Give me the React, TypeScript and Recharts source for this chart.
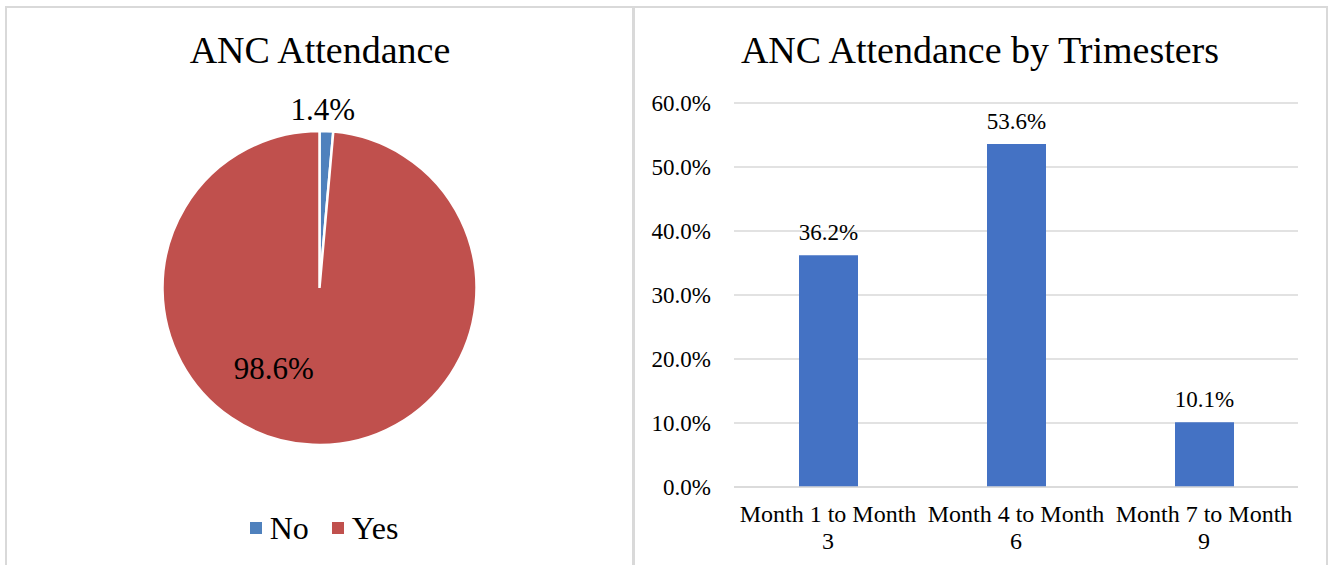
import React from "react"
import { PieChart, Pie, Cell, Legend, BarChart, Bar, XAxis, YAxis, CartesianGrid, LabelList } from "recharts"

const attendanceLabels = ["No", "Yes"]
const attendanceValues = [1.4, 98.6]
const attendanceColors = ["#4F81BD", "#C0504D"]

const trimesterLabels = ["Month 1 to Month 3", "Month 4 to Month 6", "Month 7 to Month 9"]
const trimesterValues = [36.2, 53.6, 10.1]
const yTicks = [0, 10, 20, 30, 40, 50, 60]

const FONT = '"Liberation Serif", "Times New Roman", serif'
const RADIAN = Math.PI / 180

const pieData = attendanceLabels.map((name, i) => ({ name, value: attendanceValues[i] }))
const barData = trimesterLabels.map((name, i) => ({ name, value: trimesterValues[i] }))

// Excel puts the small label outside and the big one inside, lower left
function pieLabel(props: any) {
  const { cx, cy, midAngle, outerRadius, index, value } = props
  const spots = [
    { r: outerRadius + 22, shift: 1.5 },
    { r: outerRadius * 0.59, shift: -27 },
  ]
  const s = spots[index]
  const a = (midAngle + s.shift) * RADIAN
  const x = cx + s.r * Math.cos(a)
  const y = cy - s.r * Math.sin(a)
  return (
    <text x={x} y={y} textAnchor="middle" dominantBaseline="central" fill="#000" fontSize={31} fontFamily={FONT}>
      {`${Number(value).toFixed(1)}%`}
    </text>
  )
}

function PieLegend() {
  return (
    <div style={{ display: "flex", justifyContent: "center", alignItems: "center", paddingLeft: 14, fontFamily: FONT }}>
      {attendanceLabels.map((name, i) => (
        <span key={name} style={{ display: "flex", alignItems: "center", marginRight: i === 0 ? 23 : 0 }}>
          <span style={{ width: 12, height: 12, background: attendanceColors[i], marginRight: 8, display: "inline-block" }} />
          <span style={{ fontSize: 32, lineHeight: "32px", color: "#000" }}>{name}</span>
        </span>
      ))}
    </div>
  )
}

function MonthTick({ x, y, payload }: any) {
  const words = String(payload.value).split(" ")
  const last = words.pop()
  return (
    <g transform={`translate(${x},${y})`}>
      <text textAnchor="middle" fontSize={24} fill="#000" fontFamily={FONT}>
        <tspan x={0} y={35}>{words.join(" ")}</tspan>
        <tspan x={0} y={62}>{last}</tspan>
      </text>
    </g>
  )
}

const titleStyle: React.CSSProperties = {
  position: "absolute",
  top: 31,
  fontSize: 38,
  lineHeight: "38px",
  fontFamily: FONT,
  color: "#000",
  textAlign: "center",
  whiteSpace: "nowrap",
}

export default function App() {
  return (
    <div style={{ position: "absolute", left: 0, top: 0, width: 1333, height: 565, background: "#fff", overflow: "hidden" }}>
      <div style={{ position: "absolute", left: 5, top: 6, width: 630, height: 580, border: "2px solid #d9d9d9", boxSizing: "border-box" }} />
      <div style={{ position: "absolute", left: 632, top: 6, width: 696, height: 580, border: "2px solid #d9d9d9", boxSizing: "border-box" }} />

      <div style={{ ...titleStyle, left: 5, width: 630 }}>ANC Attendance</div>
      <div style={{ ...titleStyle, left: 632, width: 696 }}>ANC Attendance by Trimesters</div>

      <div style={{ position: "absolute", left: 0, top: 0 }}>
        <PieChart width={634} height={565} margin={{ top: 0, right: 0, bottom: 0, left: 0 }}>
          <Pie
            data={pieData}
            dataKey="value"
            nameKey="name"
            cx={319.5}
            cy={288}
            outerRadius={157}
            startAngle={90}
            endAngle={-270}
            stroke="#fff"
            strokeWidth={2.5}
            label={pieLabel}
            labelLine={false}
            isAnimationActive={false}
          >
            {pieData.map((d, i) => (
              <Cell key={d.name} fill={attendanceColors[i]} />
            ))}
          </Pie>
          <Legend content={<PieLegend />} wrapperStyle={{ top: 512, left: 0, width: 634 }} />
        </PieChart>
      </div>

      <div style={{ position: "absolute", left: 634, top: 0 }}>
        <BarChart width={699} height={565} data={barData} margin={{ top: 103, right: 35, bottom: 0, left: 0 }} barSize={59}>
          <CartesianGrid vertical={false} stroke="#d9d9d9" strokeWidth={1.5} />
          <XAxis
            dataKey="name"
            height={78}
            tickSize={0}
            tickMargin={0}
            axisLine={{ stroke: "#d9d9d9", strokeWidth: 1.5 }}
            tick={<MonthTick />}
            interval={0}
          />
          <YAxis
            width={100}
            domain={[0, 60]}
            ticks={yTicks}
            tickSize={0}
            tickMargin={23}
            axisLine={false}
            tick={{ fill: "#000", fontSize: 23, fontFamily: FONT }}
            tickFormatter={(v: number) => `${v.toFixed(1)}%`}
          />
          <Bar dataKey="value" fill="#4472C4" isAnimationActive={false}>
            <LabelList
              dataKey="value"
              position="top"
              offset={15}
              fill="#000"
              fontSize={23}
              fontFamily={FONT}
              formatter={(v: any) => `${Number(v).toFixed(1)}%`}
            />
          </Bar>
        </BarChart>
      </div>
    </div>
  )
}
